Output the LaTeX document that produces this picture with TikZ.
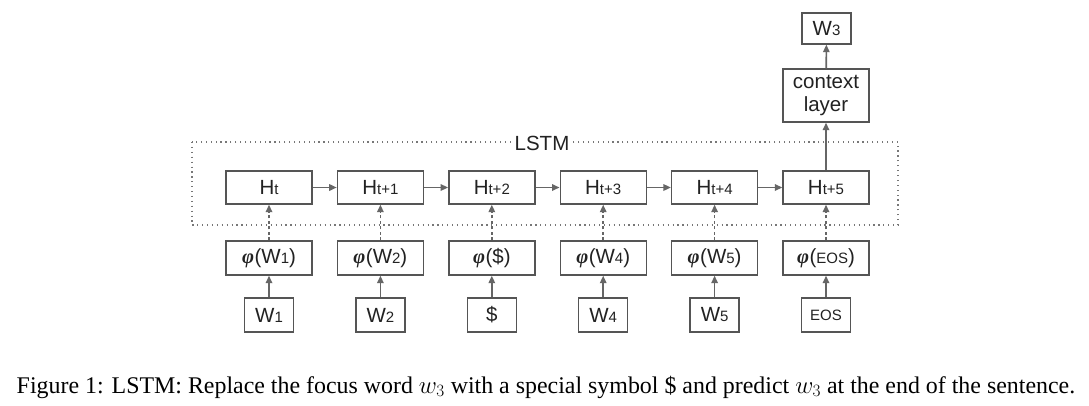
\documentclass[tikz,border=0pt]{standalone}
\usepackage{fontspec}
\setmainfont{Liberation Serif}
\newfontfamily\diagfont{Liberation Sans}
\newfontfamily\phifont{Liberation Serif}
\usetikzlibrary{arrows.meta}
\definecolor{boxgray}{HTML}{555555}
\definecolor{arrgray}{HTML}{666666}
\definecolor{dotgray}{HTML}{777777}
\definecolor{txt}{HTML}{222222}
\newcommand{\sbs}[1]{{\fontsize{15}{15}\selectfont #1}}
\newcommand{\phib}{{\phifont\bfseries\itshape φ\kern0.5pt}}
\tikzset{
  box/.style={draw=boxgray, line width=1.4pt, minimum width=86pt, minimum height=33pt,
    inner sep=0pt, text=txt, font=\diagfont\fontsize{20.5}{24}\selectfont},
  wbox/.style={box, minimum width=49pt, minimum height=34pt},
  arr/.style={draw=arrgray, line width=1.6pt, -{Triangle[length=7.5pt,width=6.5pt]}},
  darr/.style={arr, dash pattern=on 3pt off 2.5pt},
  lstm/.style={draw=dotgray, line width=1.2pt, dash pattern=on 1.2pt off 3.7pt},
}
\begin{document}
\begin{tikzpicture}[x=1pt,y=-1pt]
\useasboundingbox[fill=white] (0,0) rectangle (1089,405);
% LSTM frame
\draw[lstm] (192,142) rectangle (898,225);
\node[fill=white, inner sep=2pt, text=txt, font=\diagfont\fontsize{20.5}{24}\selectfont] (lstmlbl) at (542,143) {LSTM};
% hidden states
\node[box] (h0) at (269,187.5) {H\sbs{t}};
\node[box] (h1) at (380.4,187.5) {H\sbs{t+1}};
\node[box] (h2) at (491.8,187.5) {H\sbs{t+2}};
\node[box] (h3) at (603.2,187.5) {H\sbs{t+3}};
\node[box] (h4) at (714.6,187.5) {H\sbs{t+4}};
\node[box] (h5) at (826,187.5) {H\sbs{t+5}};
% embeddings
\node[box, minimum height=34pt] (p0) at (269,258) {\phib(W\sbs{1})};
\node[box, minimum height=34pt] (p1) at (380.4,258) {\phib(W\sbs{2})};
\node[box, minimum height=34pt] (p2) at (491.8,258) {\phib(\$)};
\node[box, minimum height=34pt] (p3) at (603.2,258) {\phib(W\sbs{4})};
\node[box, minimum height=34pt] (p4) at (714.6,258) {\phib(W\sbs{5})};
\node[box, minimum height=34pt] (p5) at (826,258) {\phib(\sbs{EOS})};
% words
\node[wbox] (w0) at (269,315) {W\sbs{1}};
\node[wbox] (w1) at (380.4,315) {W\sbs{2}};
\node[wbox] (w2) at (491.8,315) {\$};
\node[wbox] (w3) at (603.2,315) {W\sbs{4}};
\node[wbox] (w4) at (714.6,315) {W\sbs{5}};
\node[wbox] (w5) at (826,315) {\sbs{EOS}};
% context and output
\node[box, minimum height=53pt, align=center, font=\diagfont\fontsize{20.5}{23}\selectfont] (ctx) at (826,95.5) {context\\layer};
\node[wbox, minimum height=31pt] (out) at (826.5,28.5) {W\sbs{3}};
% connectors
\foreach \i in {0,...,5} {
  \draw[arr] (w\i) -- (p\i);
  \draw[darr] (p\i) -- (h\i);
}
\foreach \i/\j in {0/1,1/2,2/3,3/4,4/5} {
  \draw[arr] (h\i) -- (h\j);
}
\draw[arr] (h5) -- (ctx);
\draw[arr] (ctx) -- (out);
% caption
\node[text=black, font=\fontsize{23.9}{26}\selectfont, inner sep=0pt] (cap) at (546,387)
  {Figure 1: LSTM: Replace the focus word $w_3$ with a special symbol \$ and predict $w_3$ at the end of the sentence.};
\end{tikzpicture}
\end{document}
